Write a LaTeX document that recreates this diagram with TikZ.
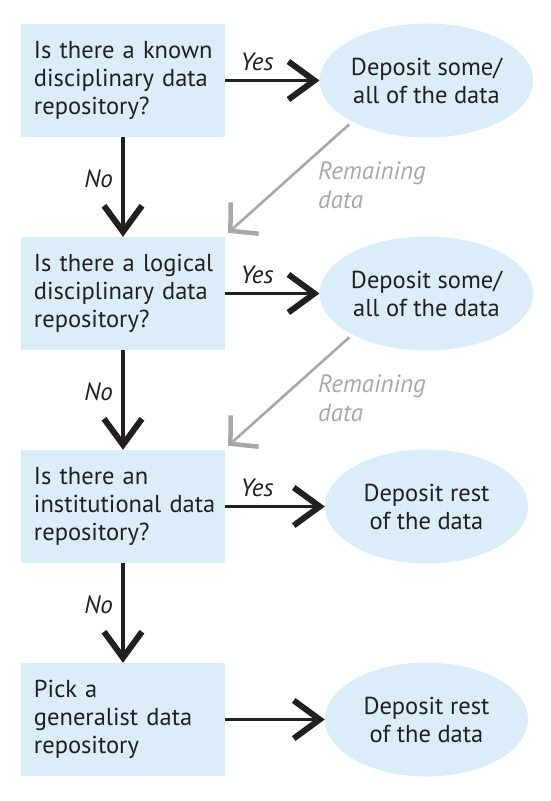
\documentclass[tikz,border=0pt]{standalone}
\usepackage{fontspec}
\setmainfont{PT Sans}
\usetikzlibrary{arrows.meta,shapes.geometric}
\definecolor{ink}{HTML}{231F20}
\definecolor{boxblue}{HTML}{DBEDF8}
\definecolor{remgray}{HTML}{A6A8AB}
\begin{document}
\begin{tikzpicture}[x=1pt,y=-1pt,
  question/.style={rectangle, fill=boxblue, minimum height=113pt, text width=178pt,
    inner xsep=13pt, inner ysep=0pt, align=left, text=ink,
    font=\fontsize{24.5}{28}\selectfont},
  outcome/.style={ellipse, fill=boxblue, minimum width=203pt, minimum height=114pt,
    inner sep=0pt, align=center, text=ink, font=\fontsize{24.5}{28}\selectfont},
  flow/.style={draw=ink, line width=3.5pt,
    -{Straight Barb[length=26pt,width=38pt,line width=6pt]}},
  remain/.style={draw=remgray, line width=2.6pt,
    -{Straight Barb[length=19pt,width=42pt,line width=4.5pt]}},
  lab/.style={inner sep=0pt, text=ink, font=\fontsize{25}{28}\selectfont\itshape},
  remlab/.style={inner sep=0pt, text=remgray, align=left, font=\fontsize{25}{29}\selectfont\itshape}
]
\useasboundingbox (0,0) rectangle (550,801);

% questions
\node[question] (b1) at (123,80.5) {\mbox{Is there a known}\\\mbox{disciplinary data}\\repository?};
\node[question] (b2) at (123,293.5) {\mbox{Is there a logical}\\\mbox{disciplinary data}\\repository?};
\node[question] (b3) at (123,506.5) {Is there an\\\mbox{institutional data}\\repository?};
\node[question] (b4) at (123,719.5) {Pick a\\\mbox{generalist data}\\repository};

% outcomes
\node[outcome] (e1) at (426.5,80.5) {Deposit some/\\all of the data};
\node[outcome] (e2) at (426.5,293.5) {Deposit some/\\all of the data};
\node[outcome] (e3) at (426.5,506.5) {Deposit rest\\of the data};
\node[outcome] (e4) at (426.5,719.5) {Deposit rest\\of the data};

% yes arrows
\draw[flow] (b1.east) -- (e1.west);
\draw[flow] (b2.east) -- (e2.west);
\draw[flow] (b3.east) -- (e3.west);
\draw[flow] (b4.east) -- (e4.west);

% no arrows
\draw[flow] (b1.south) -- (b2.north);
\draw[flow] (b2.south) -- (b3.north);
\draw[flow] (b3.south) -- (b4.north);

% remaining data arrows
\draw[remain, shorten <=4pt] (e1.209) -- ([xshift=3pt,yshift=4pt]b2.north east);
\draw[remain, shorten <=4pt] (e2.209) -- ([xshift=3pt,yshift=4pt]b3.north east);

% labels
\node[lab, anchor=base] (y1) at (257,70) {Yes};
\node[lab, anchor=base] (y2) at (257,283) {Yes};
\node[lab, anchor=base] (y3) at (257,496) {Yes};
\node[lab, anchor=base east] (n1) at (113,187) {No};
\node[lab, anchor=base east] (n2) at (113,400) {No};
\node[lab, anchor=base east] (n3) at (113,613) {No};
\node[remlab, anchor=west] (r1) at (318,185) {Remaining\\data};
\node[remlab, anchor=west] (r2) at (318,398) {Remaining\\data};
\end{tikzpicture}
\end{document}
